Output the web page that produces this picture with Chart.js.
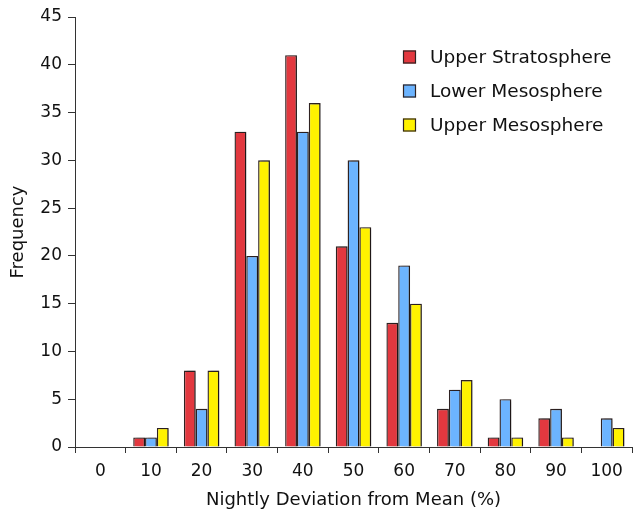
<!DOCTYPE html>
<html>
<head>
<meta charset="utf-8">
<script src="https://cdn.jsdelivr.net/npm/chart.js@4/dist/chart.umd.min.js"></script>
<style>
  html, body { margin: 0; padding: 0; background: #fff; }
  #wrap { width: 636px; height: 513px; }
</style>
</head>
<body>
<div id="wrap"><canvas id="chart"></canvas></div>
<script>
// data
const categories = ['0', '10', '20', '30', '40', '50', '60', '70', '80', '90', '100'];
const upperStrato = [0, 1, 8, 33, 41, 21, 13, 4, 1, 3, 0];
const lowerMeso   = [0, 1, 4, 20, 33, 30, 19, 6, 5, 4, 3];
const upperMeso   = [0, 2, 8, 30, 36, 23, 15, 7, 1, 1, 2];

const seriesNames = ['Upper Stratosphere', 'Lower Mesosphere', 'Upper Mesosphere'];
const seriesColors = ['#e2383f', '#6cb4ff', '#fff200'];
const edge = '#2e2222';
const FONT = 'DejaVu Sans, Verdana, sans-serif';

// soft drop shadow to the right of each bar
const barShadow = {
    id: 'barShadow',
    beforeDatasetsDraw(chart) {
        const c = chart.ctx;
        c.save();
        c.shadowColor = 'rgba(0,0,0,0.32)';
        c.shadowOffsetX = 3;
        c.shadowOffsetY = 0;
        c.shadowBlur = 2;
    },
    afterDatasetsDraw(chart) {
        chart.ctx.restore();
    }
};

// legend sits inside the plot, top right
const innerLegend = {
    id: 'innerLegend',
    afterDraw(chart) {
        const c = chart.ctx;
        c.save();
        c.font = '18.5px ' + FONT;
        c.textBaseline = 'middle';
        c.textAlign = 'left';
        chart.data.datasets.forEach((ds, i) => {
            const y = 57 + i * 34;
            c.fillStyle = ds.backgroundColor;
            c.fillRect(403, y - 6.5, 13, 13);
            c.strokeStyle = edge;
            c.lineWidth = 1.2;
            c.strokeRect(403.5, y - 6, 12, 12);
            c.fillStyle = '#111';
            c.fillText(ds.label, 430, y + 1);
        });
        c.restore();
    }
};

const datasets = [upperStrato, lowerMeso, upperMeso].map((vals, i) => ({
    label: seriesNames[i],
    data: vals,
    backgroundColor: seriesColors[i],
    borderColor: edge,
    borderWidth: 1.4,
    borderSkipped: 'bottom',
    categoryPercentage: 0.7,
    barPercentage: 1.0
}));

var ctx = document.getElementById('chart').getContext('2d');
var myChart = new Chart(ctx, {
    type: 'bar',
    data: { labels: categories, datasets: datasets },
    plugins: [barShadow, innerLegend],
    options: {
        responsive: true,
        maintainAspectRatio: false,
        animation: false,
        layout: { padding: { top: 17, right: 4, left: 0, bottom: 0 } },
        plugins: {
            legend: { display: false },
            tooltip: { enabled: false }
        },
        scales: {
            x: {
                offset: true,
                grid: {
                    offset: true,
                    drawOnChartArea: false,
                    drawTicks: true,
                    tickLength: 6,
                    color: '#333'
                },
                border: { color: '#333', width: 1 },
                ticks: { color: '#111', font: { family: FONT, size: 17 }, padding: 8, maxRotation: 0 },
                title: {
                    display: true,
                    text: 'Nightly Deviation from Mean (%)',
                    color: '#111',
                    font: { family: FONT, size: 18 },
                    padding: { top: 0, bottom: 2 }
                },
                afterFit(scale) { scale.height = 66; }
            },
            y: {
                min: 0,
                max: 45,
                ticks: { stepSize: 5, color: '#111', font: { family: FONT, size: 17 }, padding: 6 },
                grid: {
                    drawOnChartArea: false,
                    drawTicks: true,
                    tickLength: 7,
                    color: '#333'
                },
                border: { color: '#333', width: 1 },
                title: {
                    display: true,
                    text: 'Frequency',
                    color: '#111',
                    font: { family: FONT, size: 18 },
                    padding: { top: 8, bottom: 0 }
                },
                afterFit(scale) { scale.width = 75; }
            }
        }
    }
});
</script>
</body>
</html>
